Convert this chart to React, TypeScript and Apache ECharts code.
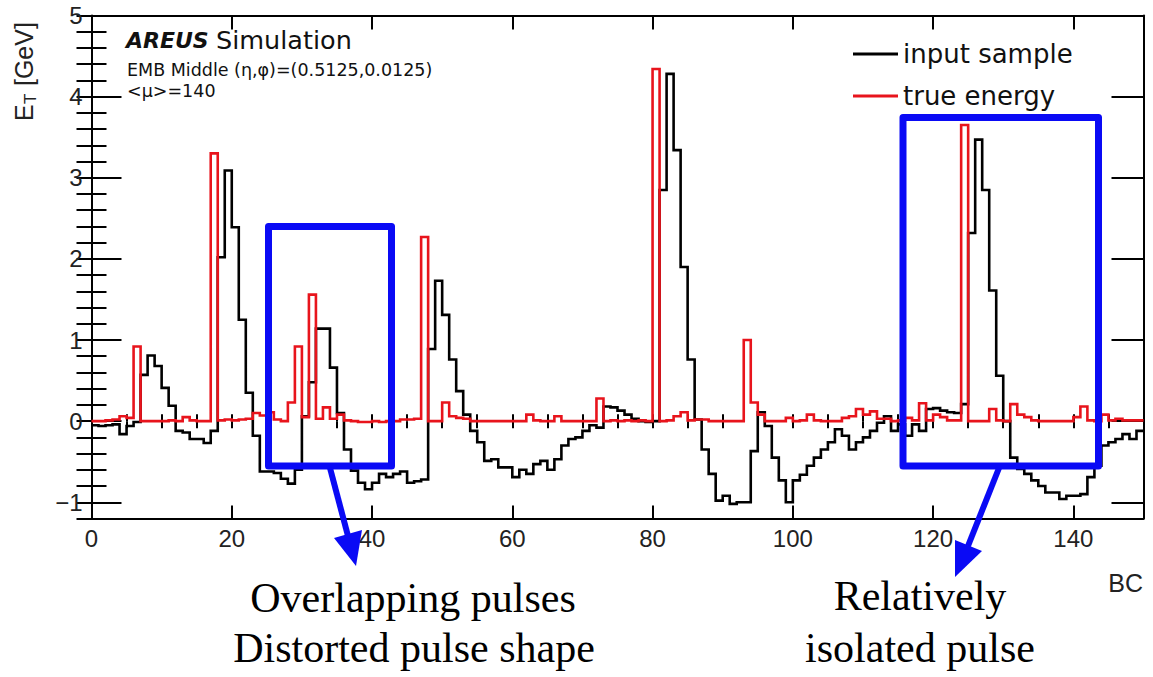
import React, { useEffect, useRef } from 'react';
import * as echarts from 'echarts';

// ---- data (one value per bunch crossing bin, BC 0..149) ----
const inputSample = [
  -0.05, -0.06, -0.05, -0.04, -0.16, -0.06, -0.01, 0.57, 0.81, 0.68,
  0.41, 0.19, -0.12, -0.14, -0.22, -0.22, -0.27, -0.12, 2.02, 3.09,
  2.39, 1.25, 0.35, -0.18, -0.62, -0.62, -0.64, -0.71, -0.77, -0.6,
  0.06, 0.48, 1.14, 1.14, 0.66, 0.1, -0.35, -0.61, -0.76, -0.84,
  -0.76, -0.65, -0.69, -0.65, -0.62, -0.76, -0.74, -0.72, 0.89, 1.73,
  1.31, 0.76, 0.37, 0.08, -0.12, -0.26, -0.49, -0.47, -0.57, -0.57,
  -0.69, -0.6, -0.65, -0.53, -0.49, -0.6, -0.47, -0.3, -0.22, -0.2,
  -0.12, -0.05, -0.08, 0.18, 0.17, 0.13, 0.08, 0.03, 0.0, -0.01,
  0.0, 2.85, 4.28, 3.34, 1.9, 0.76, 0.02, -0.35, -0.65, -0.98,
  -0.92, -1.02, -1.0, -1.0, -0.37, 0.11, -0.06, -0.45, -0.73, -1.0,
  -0.73, -0.66, -0.55, -0.45, -0.35, -0.26, -0.1, -0.18, -0.35, -0.26,
  -0.2, -0.12, -0.02, 0.06, -0.12, -0.04, -0.18, -0.04, -0.12, 0.15,
  0.16, 0.13, 0.11, 0.1, 0.21, 2.32, 3.47, 2.85, 1.61, 0.56,
  0.0, -0.45, -0.59, -0.65, -0.73, -0.8, -0.88, -0.88, -0.96, -0.92,
  -0.92, -0.9, -0.69, -0.55, -0.3, -0.26, -0.22, -0.16, -0.22, -0.12,
];

const trueEnergy = [
  0.0, 0.0, 0.01, 0.02, 0.06, 0.04, 0.92, 0.0, 0.0, 0.0,
  0.0, 0.01, 0.0, 0.05, 0.01, 0.0, 0.0, 3.3, 0.01, 0.02,
  0.01, 0.02, 0.03, 0.1, 0.07, 0.11, 0.02, 0.0, 0.23, 0.92,
  0.05, 1.56, 0.03, 0.17, 0.03, 0.08, 0.01, 0.0, -0.01, -0.01,
  0.0, -0.01, 0.0, 0.0, 0.02, 0.02, 0.03, 2.27, 0.0, 0.0,
  0.23, 0.06, 0.04, 0.03, 0.0, 0.0, 0.0, 0.0, 0.0, 0.0,
  0.0, 0.0, 0.08, 0.01, 0.0, 0.0, 0.06, 0.0, 0.0, 0.0,
  0.0, 0.0, 0.28, 0.0, 0.01, 0.0, 0.01, 0.0, 0.01, 0.0,
  4.34, 0.0, 0.01, 0.06, 0.11, 0.01, 0.02, 0.02, 0.0, 0.0,
  0.0, 0.0, 0.0, 1.0, 0.23, 0.08, 0.0, 0.0, 0.0, 0.04,
  0.0, 0.01, 0.08, 0.01, 0.0, 0.0, 0.0, 0.04, 0.06, 0.15,
  0.08, 0.12, 0.03, 0.03, 0.0, 0.01, 0.04, 0.01, 0.22, 0.01,
  0.08, 0.05, 0.01, 0.01, 3.65, 0.0, 0.0, 0.0, 0.15, 0.01,
  0.0, 0.21, 0.08, 0.05, 0.01, 0.0, 0.0, 0.0, 0.0, 0.0,
  0.05, 0.18, 0.01, 0.0, 0.08, 0.01, 0.03, 0.01, 0.01, 0.01,
];

const seriesNames = ['input sample', 'true energy'];
const bcTickLabels = [0, 20, 40, 60, 80, 100, 120, 140];
const etTickLabels = [-1, 0, 1, 2, 3, 4, 5];
const X_MIN = 0;
const X_MAX = 150;
const Y_MIN = -1.2;
const Y_MAX = 5;

const annotationLeft = ['Overlapping pulses', 'Distorted pulse shape'];
const annotationRight = ['Relatively', 'isolated pulse'];

// histogram outline: each bin drawn from its left edge, closing at the last edge
const toHist = (vals: number[]) => {
  const pts: number[][] = vals.map((v, i) => [i, v]);
  pts.push([vals.length, vals[vals.length - 1]]);
  return pts;
};

const xMinorTicks = Array.from({ length: 31 }, (_, i) => i * 5);
const yMinorTicks = Array.from({ length: 32 }, (_, i) => ((i - 6) * 2) / 10);

const BLUE = '#0a0af5';
const RED = '#e8141c';

export default function App() {
  const ref = useRef<HTMLDivElement>(null);

  useEffect(() => {
    if (!ref.current) return;
    const chart = echarts.init(ref.current, undefined, { renderer: 'svg' });

    const tickStyle = { color: '#000', width: 2 };
    const xBase = { type: 'value', gridIndex: 0, min: X_MIN, max: X_MAX, splitLine: { show: false } };
    const yBase = { type: 'value', gridIndex: 0, min: Y_MIN, max: Y_MAX, splitLine: { show: false } };

    const option: any = {
      animation: false,
      backgroundColor: '#fff',
      grid: { left: 91.5, top: 15.5, width: 1052, height: 503, show: false },
      xAxis: [
        {
          ...xBase,
          position: 'bottom',
          axisLine: { show: true, onZero: false, lineStyle: tickStyle },
          axisTick: { show: true, inside: true, length: 13, customValues: bcTickLabels, lineStyle: tickStyle },
          axisLabel: {
            show: true,
            customValues: bcTickLabels,
            margin: 8,
            fontSize: 24,
            fontFamily: 'Liberation Sans',
            color: '#222',
          },
        },
        {
          ...xBase,
          position: 'bottom',
          axisLine: { show: false },
          axisTick: { show: true, inside: true, length: 7, customValues: xMinorTicks, lineStyle: tickStyle },
          axisLabel: { show: false },
        },
        {
          ...xBase,
          position: 'top',
          axisLine: { show: true, onZero: false, lineStyle: tickStyle },
          axisTick: { show: true, inside: true, length: 14, customValues: bcTickLabels, lineStyle: tickStyle },
          axisLabel: { show: false },
        },
        {
          ...xBase,
          position: 'top',
          axisLine: { show: false },
          axisTick: { show: true, inside: true, length: 7, customValues: xMinorTicks, lineStyle: tickStyle },
          axisLabel: { show: false },
        },
      ],
      yAxis: [
        {
          ...yBase,
          position: 'left',
          axisLine: { show: true, onZero: false, lineStyle: tickStyle },
          axisTick: { show: true, inside: true, length: 30, customValues: etTickLabels, lineStyle: tickStyle },
          axisLabel: {
            show: true,
            customValues: etTickLabels,
            margin: 9,
            fontSize: 24,
            fontFamily: 'Liberation Sans',
            color: '#222',
            formatter: (v: number) => (v < 0 ? '\u2212' + String(-v) : String(v)),
          },
        },
        {
          ...yBase,
          position: 'left',
          axisLine: { show: false },
          axisTick: { show: true, inside: true, length: 15, customValues: yMinorTicks, lineStyle: tickStyle },
          axisLabel: { show: false },
        },
        {
          ...yBase,
          position: 'right',
          axisLine: { show: true, onZero: false, lineStyle: tickStyle },
          axisTick: { show: true, inside: true, length: 32, customValues: etTickLabels, lineStyle: tickStyle },
          axisLabel: { show: false },
        },
        {
          ...yBase,
          position: 'right',
          axisLine: { show: false },
          axisTick: { show: true, inside: true, length: 15, customValues: yMinorTicks, lineStyle: tickStyle },
          axisLabel: { show: false },
        },
      ],
      legend: {
        data: seriesNames,
        orient: 'vertical',
        left: 848,
        top: 36,
        itemWidth: 45,
        itemHeight: 3,
        itemGap: 16,
        icon: 'rect',
        textStyle: { fontFamily: 'DejaVu Sans', fontSize: 26, color: '#111' },
      },
      series: [
        {
          name: seriesNames[0],
          type: 'line',
          step: 'end',
          xAxisIndex: 0,
          yAxisIndex: 0,
          data: toHist(inputSample),
          symbol: 'none',
          lineStyle: { color: '#000', width: 2.6, join: 'miter' },
          itemStyle: { color: '#000' },
          z: 3,
        },
        {
          name: seriesNames[1],
          type: 'line',
          step: 'end',
          xAxisIndex: 0,
          yAxisIndex: 0,
          data: toHist(trueEnergy),
          symbol: 'none',
          lineStyle: { color: RED, width: 2.6, join: 'miter' },
          itemStyle: { color: RED },
          z: 4,
        },
      ],
      graphic: [
        {
          type: 'group',
          x: 24,
          y: 121,
          rotation: Math.PI / 2,
          children: [
            { type: 'text', x: 0, y: 0, style: { text: 'E', font: '25px "Liberation Sans"', fill: '#222', verticalAlign: 'middle', align: 'left' } },
            { type: 'text', x: 17, y: 6, style: { text: 'T', font: '17px "Liberation Sans"', fill: '#222', verticalAlign: 'middle', align: 'left' } },
            { type: 'text', x: 28, y: 0, style: { text: ' [GeV]', font: '25px "Liberation Sans"', fill: '#222', verticalAlign: 'middle', align: 'left' } },
          ],
        },
        { type: 'text', x: 126, y: 40, style: { text: 'AREUS', font: 'italic bold 22px "DejaVu Sans"', fill: '#111', verticalAlign: 'middle' } },
        { type: 'text', x: 216, y: 40, style: { text: 'Simulation', font: '25.5px "DejaVu Sans"', fill: '#111', verticalAlign: 'middle' } },
        { type: 'text', x: 127, y: 70, style: { text: 'EMB Middle (\u03b7,\u03c6)=(0.5125,0.0125)', font: '17.5px "DejaVu Sans"', fill: '#111', verticalAlign: 'middle' } },
        { type: 'text', x: 127, y: 91, style: { text: '<\u03bc>=140', font: '17.5px "DejaVu Sans"', fill: '#111', verticalAlign: 'middle' } },
        { type: 'text', x: 1143, y: 583, style: { text: 'BC', font: '25px "Liberation Sans"', fill: '#222', align: 'right', verticalAlign: 'middle' } },
        // highlight boxes
        { type: 'rect', z: 100, shape: { x: 268.5, y: 226.5, width: 123, height: 239.5 }, style: { fill: 'none', stroke: BLUE, lineWidth: 7, lineJoin: 'round' } },
        { type: 'rect', z: 100, shape: { x: 903, y: 117.5, width: 195.5, height: 348.5 }, style: { fill: 'none', stroke: BLUE, lineWidth: 7, lineJoin: 'round' } },
        // arrows
        { type: 'line', z: 100, shape: { x1: 330, y1: 468, x2: 348, y2: 536 }, style: { stroke: BLUE, lineWidth: 6 } },
        { type: 'polygon', z: 100, shape: { points: [[356, 566], [362, 530], [334, 538]] }, style: { fill: BLUE } },
        { type: 'line', z: 100, shape: { x1: 999, y1: 468, x2: 968, y2: 546 }, style: { stroke: BLUE, lineWidth: 6 } },
        { type: 'polygon', z: 100, shape: { points: [[955, 577], [982, 551], [955, 540]] }, style: { fill: BLUE } },
        // annotation text
        { type: 'text', x: 413, y: 598, style: { text: annotationLeft[0], font: '42px "Liberation Serif"', fill: '#000', align: 'center', verticalAlign: 'middle' } },
        { type: 'text', x: 414, y: 648, style: { text: annotationLeft[1], font: '42px "Liberation Serif"', fill: '#000', align: 'center', verticalAlign: 'middle' } },
        { type: 'text', x: 920, y: 596, style: { text: annotationRight[0], font: '42px "Liberation Serif"', fill: '#000', align: 'center', verticalAlign: 'middle' } },
        { type: 'text', x: 920, y: 648, style: { text: annotationRight[1], font: '42px "Liberation Serif"', fill: '#000', align: 'center', verticalAlign: 'middle' } },
      ],
    };

    chart.setOption(option);
    return () => chart.dispose();
  }, []);

  return (
    <div
      ref={ref}
      style={{ position: 'fixed', left: 0, top: 0, width: 1153, height: 677, background: '#fff' }}
    />
  );
}
